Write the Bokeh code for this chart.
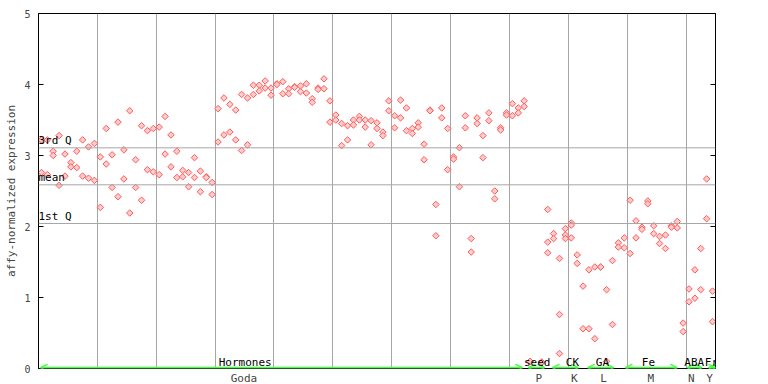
import math
from bokeh.plotting import figure
from bokeh.models import (Range1d, LinearAxis, FixedTicker, Span, Arrow, OpenHead,
                          ColumnDataSource, Label)
from bokeh.core.properties import value
from bokeh.embed import file_html
from bokeh.resources import INLINE

nan = float("nan")

# sample index 1..115 ; replicate values
sample_idx = list(range(1, 116))
rep_a = [3.22, 3.22, 3.06, 3.28, 3.02, 2.90, 3.06, 3.22, 3.12, 3.17,
         2.98, 3.38, 3.01, 3.47, 3.08, 3.63, 2.94, 3.42, 3.35, 3.38,
         3.40, 3.55, 3.29, 3.06, 2.79, 2.76, 2.97, 2.78, 2.70, 2.62,
         3.66, 3.81, 3.72, 3.64, 3.86, 3.81, 3.99, 3.99, 4.05, 3.95,
         4.01, 4.04, 3.94, 3.97, 3.98, 4.01, 3.80, 3.95, 4.08, 3.77,
         3.57, 3.45, 3.42, 3.50, 3.55, 3.50, 3.49, 3.46, 3.33, 3.77,
         3.56, 3.78, 3.67, 3.38, 3.46, 3.16, 3.64, 2.31, 3.67, 3.38,
         2.98, 3.11, 3.56, 1.83, 3.53, 3.28, 3.60, 2.50, 3.39, 3.60,
         3.73, 3.67, 3.77, 0.10, nan, 0.09, 2.24, 1.90, 1.55, 1.97,
         2.05, 1.60, 1.16, 1.39, 1.43, 1.43, 1.11, 1.52, 1.77, 1.84,
         2.37, 2.08, 1.99, 2.36, 2.01, 1.86, 1.88, 2.01, 2.07, 0.64,
         1.12, 1.39, 1.69, 2.67, 1.09]
rep_b = [2.76, 2.73, 3.00, 2.58, 2.71, 2.84, 2.83, 2.71, 2.68, 2.65,
         2.27, 2.88, 2.55, 2.42, 2.67, 2.19, 2.55, 2.37, 2.80, 2.77,
         2.73, 3.02, 2.84, 2.69, 2.70, 2.56, 2.69, 2.49, 2.69, 2.45,
         3.19, 3.29, 3.33, 3.22, 3.07, 3.15, 3.86, 3.91, 3.95, 3.85,
         4.00, 3.87, 3.87, 3.96, 3.90, 3.88, 3.75, 3.93, 3.94, 3.47,
         3.50, 3.14, 3.22, 3.43, 3.50, 3.40, 3.15, 3.38, 3.28, 3.63,
         3.39, 3.53, 3.35, 3.31, 3.40, 2.94, 3.63, 1.87, 3.53, 2.80,
         2.95, 2.56, 3.39, 1.64, 3.45, 2.97, 3.49, 2.39, 3.36, 3.57,
         3.56, 3.60, 3.69, 0.10, nan, 0.09, 1.78, 1.83, 0.76, 1.88,
         2.02, 1.48, 0.56, 0.56, 0.42, 1.43, 0.10, 0.62, 1.71, 1.70,
         1.62, 1.84, 1.96, 2.32, 1.90, 1.76, 1.69, 1.99, 1.98, 0.52,
         0.94, 0.99, 1.11, 2.11, 0.66]
# third replicates where visible
rep_c_idx = [87, 89, 90, 91]
rep_c = [1.63, 0.21, 1.83, 1.84]

q3_value = 3.108
mean_value = 2.587
q1_value = 2.042
stat_names = ["3rd Q", "mean", "1st Q"]

grid_x = [10.5, 20.5, 30.5, 40.5, 50.5, 60.5, 70.5, 80.5, 90.5, 100.5, 110.5]

group_top = ["Hormones", "seed", "CK", "GA", "Fe", "ABA", "Fr"]
group_bottom = ["Goda", "P", "K", "L", "M", "N", "Y"]
group_start = [0.84, 83.7, 87.8, 93.8, 100.2, 110.7, 114.3]
group_end = [82.7, 86.5, 92.2, 98.2, 109.0, 113.2, 115.5]
top_label_x = [35.6, 85.2, 91.2, 96.3, 104.1, 111.9, 114.8]
bottom_label_x = [35.4, 85.5, 91.5, 96.5, 104.5, 111.4, 114.5]

FONT = "DejaVu Sans Mono"
RED_LINE = "#ff5a5a"
RED_FILL = "#ffcccc"
GREEN = "#44ff44"
GRID = "#a6a6a6"

p = figure(frame_width=677, frame_height=355,
           x_range=Range1d(0.5, 115.5), y_range=Range1d(0, 5),
           output_backend="svg", toolbar_location=None,
           min_border_left=38, min_border_right=8, min_border_top=13, min_border_bottom=6)
p.background_fill_color = "white"
p.border_fill_color = "white"
p.outline_line_color = "black"
p.outline_line_width = 1

# grids
p.ygrid.visible = False
p.xgrid.ticker = FixedTicker(ticks=grid_x)
p.xgrid.grid_line_color = GRID
p.xgrid.grid_line_width = 1

for q in (q3_value, mean_value, q1_value):
    p.add_layout(Span(location=q, dimension="width", line_color=GRID, line_width=1))

# y axis
yax = p.yaxis[0]
yax.ticker = FixedTicker(ticks=[0, 1, 2, 3, 4, 5])
yax.major_tick_in = 5
yax.major_tick_out = 0
yax.minor_tick_line_color = None
yax.major_label_standoff = 8
yax.major_label_text_font = FONT
yax.major_label_text_font_size = "10px"
yax.axis_label = "affy-normalized expression"
yax.axis_label_text_font = FONT
yax.axis_label_text_font_size = "11px"
yax.axis_label_text_font_style = "normal"
yax.axis_label_standoff = 3
yax.axis_line_color = "black"

rax = LinearAxis(ticker=FixedTicker(ticks=[0, 1, 2, 3, 4, 5]),
                 major_tick_in=5, major_tick_out=0, minor_tick_line_color=None,
                 major_label_text_color=None, major_label_text_font_size="1px",
                 major_label_standoff=0, axis_line_color="black")
p.add_layout(rax, "right")

# x axis with group ids
xax = p.xaxis[0]
xax.ticker = FixedTicker(ticks=bottom_label_x)
xax.major_label_overrides = {x: t for x, t in zip(bottom_label_x, group_bottom)}
xax.major_tick_line_color = None
xax.minor_tick_line_color = None
xax.major_tick_in = 0
xax.major_tick_out = 0
xax.major_label_standoff = 3
xax.major_label_text_font = FONT
xax.major_label_text_font_size = "11px"
xax.axis_line_color = "black"

# points
xs, ys = [], []
for k, a, b in zip(sample_idx, rep_a, rep_b):
    for v in (a, b):
        if not math.isnan(v):
            xs.append(k)
            ys.append(v)
for k, c in zip(rep_c_idx, rep_c):
    xs.append(k)
    ys.append(c)
src = ColumnDataSource(dict(x=xs, y=ys))
p.scatter("x", "y", source=src, marker="square", angle=math.pi / 4, size=4.6,
          fill_color=RED_FILL, line_color=RED_LINE, line_width=1)

# statistic labels
p.text(x=[0.5] * 3, y=[q3_value, mean_value, q1_value], text=stat_names,
       text_align="left", text_baseline="bottom", y_offset=-1,
       text_font=value(FONT), text_font_size="11px", text_color="black")

# group arrows
for s, e in zip(group_start, group_end):
    p.add_layout(Arrow(start=OpenHead(size=7, line_color=GREEN, line_width=1.5),
                       end=OpenHead(size=7, line_color=GREEN, line_width=1.5),
                       x_start=s, y_start=0.012, x_end=e, y_end=0.012,
                       line_color=GREEN, line_width=2))

for x, t in zip(top_label_x, group_top):
    p.add_layout(Label(x=x, y=0, text=t, text_align="center", text_baseline="bottom",
                       y_offset=0, text_font=FONT, text_font_size="11px",
                       text_color="black"))

open("out.html", "w").write(file_html(p, INLINE))
